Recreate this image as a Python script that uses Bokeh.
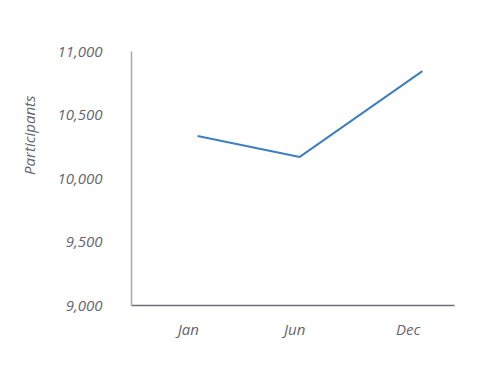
from bokeh.plotting import figure
from bokeh.models import Range1d, FixedTicker, Title, NumeralTickFormatter
from bokeh.embed import file_html
from bokeh.resources import INLINE

# data
months = ["Jan", "Jun", "Dec"]
month_pos = [1, 6, 12]
participants = [10335, 10170, 10845]

# tick labels
x_tick_pos = [0.55, 5.75, 11.3]
x_tick_labels = ["Jan", "Jun", "Dec"]
y_ticks = [9000, 9500, 10000, 10500, 11000]

FONT = "Open Sans"
GREY = "#666670"

p = figure(width=488, height=380, output_backend="svg", toolbar_location=None,
           x_range=Range1d(-2.23, 13.57), y_range=Range1d(9000, 11000),
           min_border_left=131, min_border_right=34, min_border_top=51, min_border_bottom=75)
p.outline_line_color = None
p.grid.grid_line_color = None
p.background_fill_color = "white"
p.border_fill_color = "white"

p.line(month_pos, participants, line_color="#3f7fbf", line_width=2)

p.xaxis.ticker = FixedTicker(ticks=x_tick_pos)
p.xaxis.major_label_overrides = {t: l for t, l in zip(x_tick_pos, x_tick_labels)}
p.yaxis.ticker = FixedTicker(ticks=y_ticks)
p.yaxis.formatter = NumeralTickFormatter(format="0,0")

for ax in (p.xaxis, p.yaxis):
    ax.major_tick_line_color = None
    ax.minor_tick_line_color = None
    ax.major_label_text_font = FONT
    ax.major_label_text_font_style = "italic"
    ax.major_label_text_font_size = "15px"
    ax.major_label_text_color = GREY
p.yaxis.axis_line_color = "#a8a8a8"
p.yaxis.axis_line_width = 1.5
p.xaxis.axis_line_color = "#6e6e7a"
p.xaxis.axis_line_width = 1.5
p.yaxis.major_label_standoff = 23
p.xaxis.major_label_standoff = 7

ytitle = Title(text="Participants", align="right", offset=44, standoff=31,
               text_font=FONT, text_font_style="italic", text_font_size="15px",
               text_color=GREY)
p.add_layout(ytitle, "left")

open("out.html", "w").write(file_html(p, INLINE))
